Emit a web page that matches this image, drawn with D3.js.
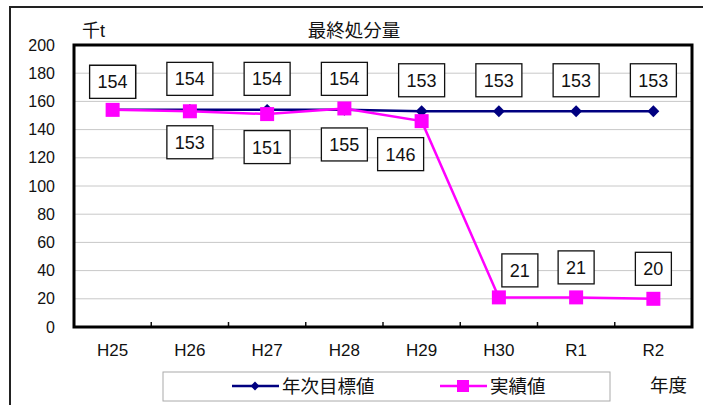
<!DOCTYPE html>
<html><head><meta charset="utf-8">
<script src="https://cdn.jsdelivr.net/npm/d3@7"></script>
<style>
body{margin:0;background:#fff;}
text{font-family:"Liberation Sans","Noto Sans CJK JP",sans-serif;fill:#111;}
</style></head>
<body><svg id="c" width="703" height="405"></svg>
<script>
const categories = ["H25","H26","H27","H28","H29","H30","R1","R2"];
const targetValues = [154,154,154,154,153,153,153,153];
const actualValues = [154,153,151,155,146,21,21,20];
const yTicks = [0,20,40,60,80,100,120,140,160,180,200];
const seriesNames = ["年次目標値","実績値"];
const title = "最終処分量";
const unitLabel = "千t";
const xAxisTitle = "年度";
// label placement: dx, dy offset from point (px)
const targetLabelPos = [[0,-28],[0,-31],[0,-31],[0,-31],[0,-31],[0,-31],[0,-31],[0,-31]];
const actualLabelPos = [[0,-28],[0,31],[0,33],[0,36],[-21,33],[21,-27],[0,-30],[0,-30]];

const svg = d3.select("#c");
const L=74, R=692, T=45, B=327;
const x = d3.scaleBand().domain(categories).range([L,R]);
const y = d3.scaleLinear().domain([0,200]).range([B,T]);
const cx = c => x(c)+x.bandwidth()/2;

// outer border
svg.append("rect").attr("x",10).attr("y",7).attr("width",720).attr("height",420)
  .attr("fill","none").attr("stroke","#222").attr("stroke-width",2);

// gridlines
svg.append("g").selectAll("line").data(yTicks.filter(d=>d>0&&d<200)).join("line")
  .attr("x1",L).attr("x2",R).attr("y1",d=>y(d)).attr("y2",d=>y(d))
  .attr("stroke","#c8c8c8").attr("stroke-width",1);

// y axis labels
const ya = svg.append("g").attr("transform",`translate(${L},0)`)
  .call(d3.axisLeft(y).tickValues(yTicks).tickSize(0).tickPadding(19));
ya.select(".domain").remove();
ya.selectAll("text").attr("font-size",16).style("font-family",'"Liberation Sans",sans-serif').attr("fill","#111");

// x axis
const xa = svg.append("g").attr("transform",`translate(0,${B})`)
  .call(d3.axisBottom(x).tickSize(0).tickPadding(17));
xa.select(".domain").remove();
xa.selectAll("text").attr("font-size",17).style("font-family",'"Liberation Sans",sans-serif').attr("fill","#111");
// inward ticks at band boundaries
svg.append("g").selectAll("line").data(categories.slice(1)).join("line")
  .attr("x1",d=>x(d)).attr("x2",d=>x(d)).attr("y1",B).attr("y2",B-5)
  .attr("stroke","#111").attr("stroke-width",1.5);

// plot frame
svg.append("rect").attr("x",L).attr("y",T).attr("width",R-L).attr("height",B-T)
  .attr("fill","none").attr("stroke","#000").attr("stroke-width",3);

// lines
const line = d3.line().x((d,i)=>cx(categories[i])).y(d=>y(d));
svg.append("path").datum(targetValues).attr("d",line).attr("fill","none")
  .attr("stroke","#000080").attr("stroke-width",2.5);
svg.append("g").selectAll("path").data(targetValues).join("path")
  .attr("d",d3.symbol(d3.symbolDiamond2,90)())
  .attr("transform",(d,i)=>`translate(${cx(categories[i])},${y(d)})`)
  .attr("fill","#000080");
svg.append("path").datum(actualValues).attr("d",line).attr("fill","none")
  .attr("stroke","#ff00ff").attr("stroke-width",2.5);
svg.append("g").selectAll("rect").data(actualValues).join("rect")
  .attr("x",(d,i)=>cx(categories[i])-7).attr("y",d=>y(d)-7)
  .attr("width",14).attr("height",14).attr("fill","#ff00ff");

// data labels
function labels(vals,pos){
  const g = svg.append("g");
  vals.forEach((v,i)=>{
    const px = cx(categories[i])+pos[i][0], py = y(v)+pos[i][1];
    const s = String(v);
    const w = s.length*10+16, h=33;
    g.append("rect").attr("x",px-w/2).attr("y",py-h/2).attr("width",w).attr("height",h)
      .attr("fill","#fff").attr("stroke","#111").attr("stroke-width",1.3);
    g.append("text").attr("x",px).attr("y",py+6.5).attr("text-anchor","middle")
      .attr("font-size",18).text(s);
  });
}
labels(targetValues,targetLabelPos);
labels(actualValues,actualLabelPos);

// title & unit
svg.append("text").attr("x",354).attr("y",37).attr("text-anchor","middle").attr("font-size",18.5).text(title);
svg.append("text").attr("x",82).attr("y",37).attr("font-size",18).text(unitLabel);

// legend
svg.append("rect").attr("x",163).attr("y",372).attr("width",447).attr("height",29)
  .attr("fill","#fff").attr("stroke","#aaa").attr("stroke-width",1);
const lg = [[232,"#000080","diamond"],[440,"#ff00ff","square"]];
lg.forEach((d,i)=>{
  const lx=d[0], ly=386;
  svg.append("line").attr("x1",lx).attr("x2",lx+47).attr("y1",ly).attr("y2",ly)
    .attr("stroke",d[1]).attr("stroke-width",2.5);
  if(d[2]==="diamond"){
    svg.append("path").attr("d",d3.symbol(d3.symbolDiamond2,50)()).attr("transform",`translate(${lx+23},${ly})`).attr("fill",d[1]);
  } else {
    svg.append("rect").attr("x",lx+17).attr("y",ly-6).attr("width",12).attr("height",12).attr("fill",d[1]);
  }
  svg.append("text").attr("x",lx+50).attr("y",ly+7).attr("font-size",18.5).text(seriesNames[i]);
});
svg.append("text").attr("x",650).attr("y",392).attr("font-size",18.5).text(xAxisTitle);
</script></body></html>
